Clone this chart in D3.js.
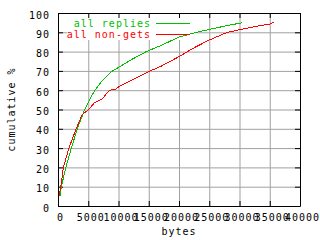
<!DOCTYPE html>
<html>
<head>
<meta charset="utf-8">
<script src="https://cdn.jsdelivr.net/npm/d3@7"></script>
<style>
    body { margin: 0; background: #fff; }
    text { font-family: "DejaVu Sans Mono", monospace; font-size: 10px; letter-spacing: 1px; }
    .grid line { stroke: #a0a0a0; }
    .grid path { display: none; }
</style>
</head>
<body>
<svg id="chart" width="320" height="240"></svg>
<script>
// DATA: cumulative % by message size (bytes)
const repliesBytes = [330, 550, 1000, 1300, 2200, 2700, 3200, 4400, 5200, 6100, 7300, 9000, 10000, 12000, 14600, 16900, 20000, 22500, 25000, 28000, 30000, 30500];
const repliesPct   = [5, 10, 16, 20, 30, 35, 40, 50, 55, 60, 65, 70, 71.8, 75.6, 80, 83, 87.5, 89.7, 91.5, 93.5, 94.7, 94.9];

const nonGetsBytes = [170, 450, 900, 1800, 2400, 3000, 4000, 5100, 6000, 7300, 8500, 9500, 10000, 12000, 15000, 16900, 20000, 22500, 25000, 28000, 30000, 33000, 35000, 35750];
const nonGetsPct   = [5, 10, 20, 30, 35, 40, 47.4, 50, 53.5, 55.5, 60, 60.5, 61.7, 65, 69.7, 72.2, 77.4, 82, 86, 90, 91.3, 93.2, 94.3, 95.2];

const xTicks = [0, 5000, 10000, 15000, 20000, 25000, 30000, 35000, 40000];
const yTicks = [0, 10, 20, 30, 40, 50, 60, 70, 80, 90, 100];

const seriesNames = ["all replies", "all non-gets"];
const seriesColors = ["#00c000", "#ff0000"];

// SETUP
const margin = { top: 13, left: 58 },
    width = 242,
    height = 193;

const svg = d3.select("#chart")
    .append("g")
    .attr("transform", `translate(${margin.left},${margin.top})`);

// scales
const x = d3.scaleLinear().domain([0, 40000]).range([0, width]);
const y = d3.scaleLinear().domain([0, 100]).range([height, 0]);

// 1: GRID
svg.append("g")
    .attr("class", "grid")
    .attr("transform", `translate(0,${height})`)
    .call(d3.axisBottom(x).tickValues(xTicks).tickSize(-height).tickFormat(""));
svg.append("g")
    .attr("class", "grid")
    .call(d3.axisLeft(y).tickValues(yTicks).tickSize(-width).tickFormat(""));

// 2: KEY BACKGROUND (hides grid under the legend)
svg.append("rect")
    .attr("x", 67 - margin.left)
    .attr("y", 0)
    .attr("width", 130)
    .attr("height", 27)
    .attr("fill", "#fff");

// 3: AXES (ticks point inward, mirrored on top/right)
svg.append("g")
    .attr("transform", `translate(0,${height})`)
    .call(d3.axisBottom(x).tickValues(xTicks).tickFormat(d3.format("d"))
        .tickSizeInner(-5).tickSizeOuter(0).tickPadding(8))
    .selectAll("text").attr("dx", 2);

svg.append("g")
    .call(d3.axisLeft(y).tickValues(yTicks).tickFormat(d3.format("d"))
        .tickSizeInner(-5).tickSizeOuter(0).tickPadding(8))
    .selectAll("text").attr("dy", "0.5em");

svg.append("g")
    .call(d3.axisTop(x).tickValues(xTicks).tickSizeInner(-5).tickSizeOuter(0).tickFormat(""));

svg.append("g")
    .attr("transform", `translate(${width},0)`)
    .call(d3.axisRight(y).tickValues(yTicks).tickSizeInner(-5).tickSizeOuter(0).tickFormat(""));

svg.selectAll(".domain").attr("stroke", "#000");

// 4: LINES
const line = d3.line()
    .x(d => x(d[0]))
    .y(d => y(d[1]));

const series = [
    d3.zip(repliesBytes, repliesPct),
    d3.zip(nonGetsBytes, nonGetsPct)
];

series.forEach((s, i) => {
    svg.append("path")
        .datum(s)
        .attr("d", line)
        .attr("fill", "none")
        .attr("stroke", seriesColors[i])
        .attr("stroke-width", 1)
        .attr("shape-rendering", "crispEdges");
});

// 5: LEGEND
seriesNames.forEach((name, i) => {
    const ly = 23 + i * 11 - margin.top;
    svg.append("text")
        .attr("x", 151 - margin.left)
        .attr("y", ly + 3.5)
        .attr("text-anchor", "end")
        .attr("fill", seriesColors[i])
        .text(name);
    svg.append("line")
        .attr("x1", 156 - margin.left)
        .attr("x2", 190 - margin.left)
        .attr("y1", ly + 0.5)
        .attr("y2", ly + 0.5)
        .attr("stroke", seriesColors[i]);
});

// 6: LABELS
svg.append("text")
    .attr("x", width / 2)
    .attr("y", 235 - margin.top)
    .attr("text-anchor", "middle")
    .text("bytes");

svg.append("text")
    .attr("transform", "rotate(-90)")
    .attr("x", -height / 2)
    .attr("y", 15 - margin.left)
    .attr("text-anchor", "middle")
    .text("cumulative %");
</script>
</body>
</html>
